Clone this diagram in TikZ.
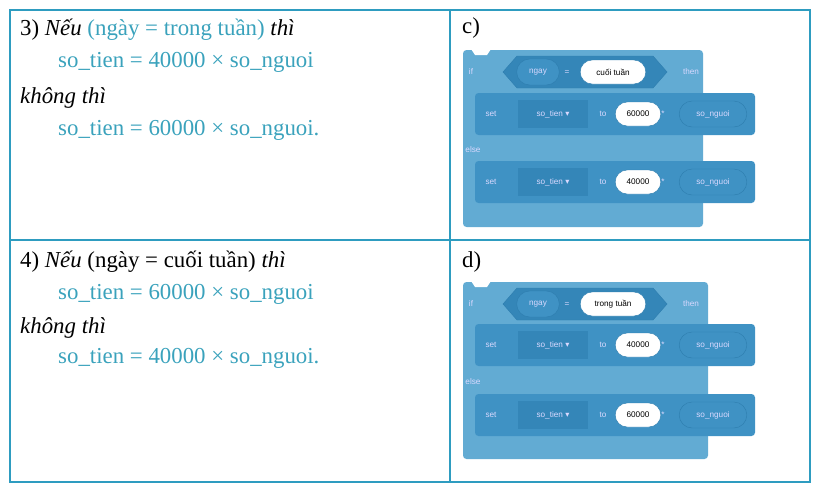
\documentclass[tikz,border=0pt]{standalone}
\usepackage{fontspec}
\setmainfont{Liberation Serif}
\setsansfont{Liberation Sans}
\newfontfamily\symfont{DejaVu Sans}
\usetikzlibrary{positioning}
\usetikzlibrary{shapes.misc}
\definecolor{teal}{HTML}{2E9CC0}
\definecolor{txt}{HTML}{3AA2BC}
\definecolor{blk}{HTML}{62ABD3}
\definecolor{inner}{HTML}{3F92C4}
\definecolor{slot}{HTML}{3486B8}
\definecolor{edge}{HTML}{2F7FB0}

\newcommand{\progblock}[4]{%
  \begin{scope}[shift={(#1)}]
    \fill[blk, rounded corners=3] (0,0) rectangle (#2,177);
    \fill[white] (8,-1) -- (12,5) -- (24,5) -- (28,-1) -- cycle;
    \node[kw] at (8,22) {if};
    \fill[slot, draw=edge] (40,22) -- (54,6) -- (190,6) -- (204,22) -- (190,38) -- (54,38) -- cycle;
    \node[dark oval, minimum width=45*0.03cm] (#3a) at (75,22) {ngay};
    \node[kw] at (104,22) {=};
    \node[white oval, minimum width=68*0.03cm] (#3b) at (150,22) {#4};
    \node[kw] at (228,22) {then};
    \node[kw] at (10,100) {else};
  \end{scope}}

\newcommand{\setrow}[3]{%
  \begin{scope}[shift={(#1)}]
    \fill[inner, rounded corners=3] (0,0) rectangle (280,42);
    \node[kw] at (16,21) {set};
    \node[slot box] (#2v) at (78,21) {so\_tien {\symfont▾}};
    \node[kw] at (128,21) {to};
    \node[white oval, minimum width=48*0.03cm] (#2n) at (163,21) {#3};
    \node[kw] at (188,21) {*};
    \node[dark oval, minimum width=70*0.03cm] (#2m) at (238,21) {so\_nguoi};
  \end{scope}}

\begin{document}
\begin{tikzpicture}[x=0.03cm, y=-0.03cm,
  grid/.style={draw=teal, line width=1.5pt},
  line/.style={anchor=west, inner sep=0pt, font=\fontsize{19.5}{22}\selectfont},
  kw/.style={font=\sffamily\fontsize{7}{8}\selectfont, text=white!85!blue, anchor=center},
  dark oval/.style={rounded rectangle, fill=inner, draw=edge, minimum height=26*0.03cm, inner sep=1pt, font=\sffamily\fontsize{7}{8}\selectfont, text=white!85!blue},
  white oval/.style={rounded rectangle, fill=white, draw=edge, minimum height=24*0.03cm, inner sep=1pt, font=\sffamily\fontsize{7}{8}\selectfont},
  slot box/.style={fill=slot, minimum width=70*0.03cm, minimum height=28*0.03cm, inner sep=0pt, font=\sffamily\fontsize{7}{8}\selectfont, text=white!85!blue}
]
\useasboundingbox (0,0) rectangle (822,498);

% --- table grid ---
\draw[grid] (10,10) rectangle (810,482);
\draw[grid] (450,10) -- (450,482);
\draw[grid] (10,240) -- (810,240);

% --- row 3 ---
\node[line] (r3a) at (20,30) {3) \textit{Nếu} \textcolor{txt}{(ngày = trong tuần)} \textit{thì}};
\node[line, text=txt] (r3b) at (58,62) {so\_tien = 40000 × so\_nguoi};
\node[line] (r3c) at (20,98) {\textit{không thì}};
\node[line, text=txt] (r3d) at (58,130) {so\_tien = 60000 × so\_nguoi.};

% --- row 4 ---
\node[line] (r4a) at (20,262) {4) \textit{Nếu} (ngày = cuối tuần) \textit{thì}};
\node[line, text=txt] (r4b) at (58,294) {so\_tien = 60000 × so\_nguoi};
\node[line] (r4c) at (20,328) {\textit{không thì}};
\node[line, text=txt] (r4d) at (58,358) {so\_tien = 40000 × so\_nguoi.};

% --- blocks ---
\node[line] (lc) at (462,28) {c)};
\progblock{463,50}{240}{c}{cuối tuần}
\setrow{475,93}{c1}{60000}
\setrow{475,161}{c2}{40000}

\node[line] (ld) at (462,262) {d)};
\progblock{463,282}{245}{d}{trong tuần}
\setrow{475,324}{d1}{40000}
\setrow{475,394}{d2}{60000}
\end{tikzpicture}
\end{document}
